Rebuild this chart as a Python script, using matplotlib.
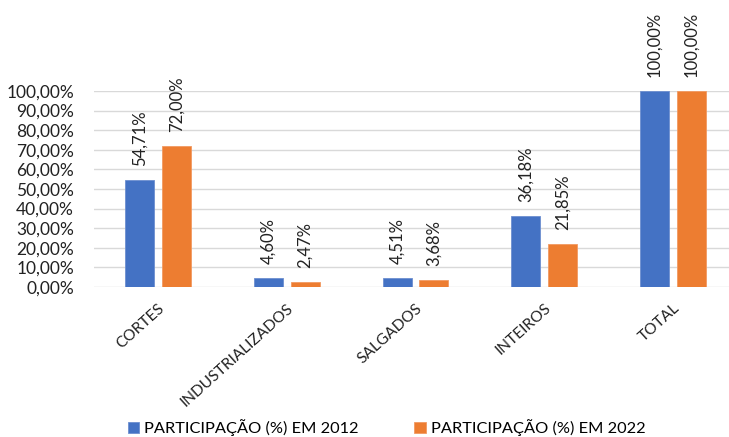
import matplotlib.pyplot as plt
import numpy as np

# data
categories = ["CORTES", "INDUSTRIALIZADOS", "SALGADOS", "INTEIROS", "TOTAL"]
share_2012 = [54.71, 4.60, 4.51, 36.18, 100.00]
share_2022 = [72.00, 2.47, 3.68, 21.85, 100.00]
series_names = ["PARTICIPAÇÃO (%) EM 2012", "PARTICIPAÇÃO (%) EM 2022"]
y_ticks = np.arange(0, 101, 10)

plt.rcParams['font.family'] = ['Lato', 'DejaVu Sans']

fig = plt.figure(figsize=(7.29, 4.37), dpi=100)
ax = fig.add_axes([93.5 / 729, 1 - 287 / 437, 644 / 729, 196 / 437])

x = np.arange(len(categories))
w = 0.225
off = 0.143
b1 = ax.bar(x - off, share_2012, w, color="#4472C4", edgecolor="#6d8fd0", linewidth=0.6,
            label=series_names[0], zorder=3)
b2 = ax.bar(x + off, share_2022, w, color="#ED7D31", edgecolor="#f29a62", linewidth=0.6,
            label=series_names[1], zorder=3)

# rotated value labels above each bar
for bars in (b1, b2):
    for bar in bars:
        h = bar.get_height()
        ax.annotate(f"{h:.2f}%".replace(".", ","),
                    (bar.get_x() + bar.get_width() / 2, h),
                    xytext=(0, 10), textcoords="offset points",
                    rotation=90, ha="center", va="bottom", fontsize=12,
                    color="#222222", annotation_clip=False)

ax.set_xlim(-0.5, len(categories) - 0.5)
ax.set_ylim(0, 100)
ax.set_yticks(y_ticks)
ax.set_yticklabels([f"{v:.2f}%".replace(".", ",") for v in y_ticks], fontsize=12.5, color="#222222")
ax.set_xticks(x)
ax.set_xticklabels(categories, rotation=42, ha="right", rotation_mode="anchor",
                   fontsize=11.2, color="#222222")
ax.tick_params(axis="both", length=0)
ax.tick_params(axis="y", pad=14)
ax.tick_params(axis="x", pad=10)

ax.grid(axis="y", color="#D9D9D9", linewidth=1, zorder=0)
for s in ax.spines.values():
    s.set_visible(False)

fig.legend(handles=[b1, b2], labels=series_names, loc="center", ncol=2,
           bbox_to_anchor=(0.53, 1 - 428 / 437), frameon=False, fontsize=11.8,
           handlelength=0.7, handleheight=0.7, handletextpad=0.3, columnspacing=3.4)

fig.savefig("out.png", dpi=100)
